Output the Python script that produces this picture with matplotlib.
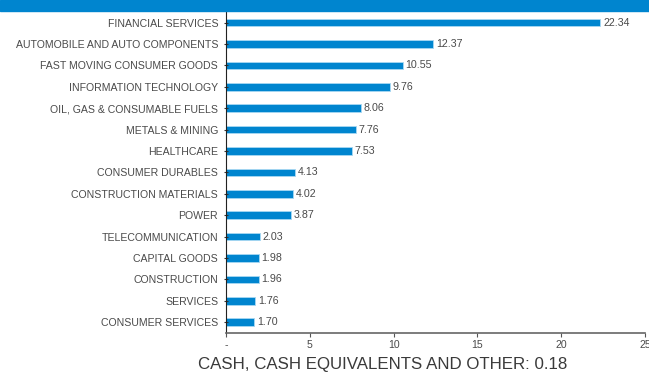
import matplotlib.pyplot as plt
from matplotlib.patches import Rectangle

sectors = ['FINANCIAL SERVICES', 'AUTOMOBILE AND AUTO COMPONENTS', 'FAST MOVING CONSUMER GOODS',
           'INFORMATION TECHNOLOGY', 'OIL, GAS & CONSUMABLE FUELS', 'METALS & MINING', 'HEALTHCARE',
           'CONSUMER DURABLES', 'CONSTRUCTION MATERIALS', 'POWER', 'TELECOMMUNICATION',
           'CAPITAL GOODS', 'CONSTRUCTION', 'SERVICES', 'CONSUMER SERVICES']
weights = [22.34, 12.37, 10.55, 9.76, 8.06, 7.76, 7.53, 4.13, 4.02, 3.87, 2.03, 1.98, 1.96, 1.76, 1.70]
xticks = [0, 5, 10, 15, 20, 25]
xtick_labels = ['-', '5', '10', '15', '20', '25']
cash = 0.18

blue = '#0085cf'
grey = '#4a4a4a'
plt.rcParams['font.family'] = ['Liberation Sans', 'DejaVu Sans']

fig = plt.figure(figsize=(6.49, 3.72), dpi=100)
# header band
fig.patches.append(Rectangle((0, 1 - 11 / 372), 1, 11 / 372, transform=fig.transFigure,
                             color=blue, zorder=0))

ax = fig.add_axes([0.348, 0.105, 0.646, 0.863])
ypos = range(len(sectors))
ax.barh(ypos, weights, height=0.36, color=blue, edgecolor='#a8d8f2', linewidth=0.6)
for y, v in zip(ypos, weights):
    ax.text(v + 0.15, y, f'{v:.2f}', va='center', ha='left', fontsize=7.7, color=grey)

ax.set_ylim(len(sectors) - 0.5, -0.5)
ax.set_xlim(0, 25)
ax.set_yticks(list(ypos))
ax.set_yticklabels(sectors, fontsize=7.6, color=grey)
ax.set_xticks(xticks)
ax.set_xticklabels(xtick_labels, fontsize=7.6, color=grey)
ax.tick_params(axis='y', length=3, width=0.8, color='#333333', pad=4, direction='inout')
ax.tick_params(axis='x', length=3, width=0.8, color='#555555', pad=2)
for s in ['top', 'right']:
    ax.spines[s].set_visible(False)
ax.spines['left'].set_color('#222222')
ax.spines['bottom'].set_color('#666666')
ax.spines['bottom'].set_linewidth(1.2)

fig.text(0.590, 0.008, f'CASH, CASH EQUIVALENTS AND OTHER: {cash:.2f}',
         ha='center', va='baseline', fontsize=12.2, color='#3a3a3a')

plt.savefig('out.png', dpi=100)
